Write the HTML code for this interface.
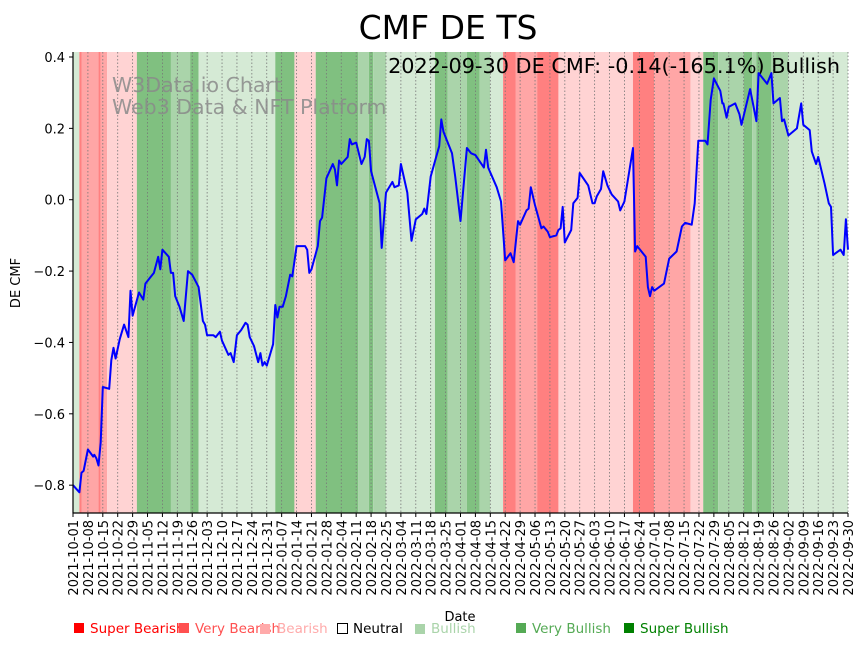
<!DOCTYPE html>
<html><head><meta charset="utf-8"><style>
body{margin:0;background:#fff;}
svg text{font-family:"DejaVu Sans","Liberation Sans",sans-serif;}
</style></head><body>
<svg id="chart" width="864" height="646" viewBox="0 0 864 646" xmlns="http://www.w3.org/2000/svg">
<text x="448" y="39" font-size="33" text-anchor="middle">CMF DE TS</text>
<g id="bands"></g>
<g id="grid"></g>
<text x="112" y="92" font-size="20.5" fill="#8a8a8a" fill-opacity="0.85">W3Data.io Chart</text>
<text x="112" y="114" font-size="20.5" fill="#8a8a8a" fill-opacity="0.85">Web3 Data &amp; NFT Platform</text>
<text x="840" y="73" font-size="20.8" text-anchor="end">2022-09-30 DE CMF: -0.14(-165.1%) Bullish</text>
<path id="line" fill="none" stroke="#0000ff" stroke-width="2" stroke-linejoin="round"/>
<g id="axes"></g>
<text font-size="13" text-anchor="middle" transform="translate(20,283) rotate(-90)">DE CMF</text>
<text x="460" y="621" font-size="13" text-anchor="middle">Date</text>
<g font-size="13.5">
<rect x="74" y="623" width="10" height="10" fill="#ff0000"/>
<text x="90" y="633" fill="#ff0000">Super Bearish</text>
<rect x="179" y="623" width="10" height="10" fill="#ff5050"/>
<text x="195" y="633" fill="#ff5050">Very Bearish</text>
<rect x="260" y="624" width="10" height="10" fill="#ffaaaa"/>
<text x="277" y="633" fill="#ffaaaa">Bearish</text>
<rect x="337.5" y="623.5" width="10" height="10" fill="#fff" stroke="#000"/>
<text x="353" y="633" fill="#000">Neutral</text>
<rect x="415" y="624" width="10" height="10" fill="#aad4aa"/>
<text x="431" y="633" fill="#aad4aa">Bullish</text>
<rect x="516" y="623" width="10" height="10" fill="#55aa55"/>
<text x="532" y="633" fill="#55aa55">Very Bullish</text>
<rect x="624" y="623" width="10" height="10" fill="#008000"/>
<text x="640" y="633" fill="#008000">Super Bullish</text>
</g>
</svg>
<script>
const bandStarts=[0,3,4,12,13,16,30,46,55,59,95,104,114,134,139,141,147,170,176,185,191,196,202,208,218,228,263,273,290,296,303,315,319,321,328,336];
const bandEnds=[3,4,12,13,16,30,46,55,59,95,104,114,134,139,141,147,170,176,185,191,196,202,208,218,228,263,273,290,296,303,315,319,321,328,336,365];
const bandLevels=[1,-3,-2,-3,-2,-1,3,2,3,1,3,-1,3,2,3,2,1,3,2,3,2,1,-3,-2,-3,-1,-3,-2,-1,3,2,3,2,3,2,1];
const days=[0,3,4,5,7,9.5,10,11,12,13,14,17,18,19,20,22,24,26,27,28,31,33,34,36,38,40,41,42,45,46,47,48,50,52,54,56,59,61,62,63,66,67,69,70,73,74,75.5,77,79,81,82,83,85,87,88,89,90,91,94,95,96,97,98.5,100,102,103,105,109,110,111,112,115,116,117,119,122,123,124,125,126,129,130,131,133,135.5,137,138,139,140,144,145,147,150,151,153,154,157,159,161,164,165,166,168,172,173,174,178,179.5,182,185,187,189,193,194,195,199,201,203,205.5,207,209,210,213,214,215,217,220,221,223,224,227,228,229,230,231,234,235,237,238,242,244,245,246,248,249,251,253,256,257,259,263,264,265,269,270,271,272,273,277.6,280,283.5,286,287.5,290.6,292,293.7,297,298,299.5,301,304,305,305.5,307,308,311,313,314,318,321,322,326,328,329,332,333,334,336,340,342,343,346,347,349,350,353,355,356,357,360.5,362,363,364];
const cmf=[-0.80,-0.82,-0.765,-0.76,-0.70,-0.72,-0.715,-0.725,-0.745,-0.68,-0.525,-0.53,-0.45,-0.415,-0.445,-0.39,-0.35,-0.385,-0.255,-0.325,-0.26,-0.28,-0.235,-0.22,-0.205,-0.16,-0.195,-0.14,-0.16,-0.205,-0.205,-0.27,-0.30,-0.34,-0.20,-0.21,-0.245,-0.34,-0.35,-0.38,-0.38,-0.385,-0.37,-0.395,-0.435,-0.43,-0.455,-0.38,-0.365,-0.345,-0.35,-0.385,-0.41,-0.455,-0.43,-0.465,-0.455,-0.465,-0.405,-0.295,-0.33,-0.30,-0.30,-0.27,-0.21,-0.215,-0.13,-0.13,-0.14,-0.205,-0.195,-0.13,-0.06,-0.05,0.06,0.10,0.085,0.04,0.11,0.10,0.12,0.17,0.155,0.16,0.10,0.12,0.17,0.165,0.08,-0.01,-0.135,0.02,0.05,0.035,0.04,0.10,0.02,-0.115,-0.055,-0.04,-0.025,-0.04,0.065,0.15,0.225,0.19,0.13,0.065,-0.06,0.145,0.13,0.125,0.09,0.14,0.09,0.035,-0.005,-0.17,-0.15,-0.175,-0.06,-0.07,-0.03,-0.025,0.035,-0.015,-0.08,-0.075,-0.09,-0.105,-0.10,-0.085,-0.08,-0.02,-0.12,-0.085,-0.01,0.005,0.075,0.04,-0.01,-0.01,0.01,0.03,0.08,0.04,0.015,-0.005,-0.03,-0.005,0.145,-0.145,-0.13,-0.16,-0.245,-0.27,-0.245,-0.255,-0.235,-0.165,-0.145,-0.075,-0.065,-0.07,-0.01,0.165,0.165,0.155,0.28,0.34,0.305,0.27,0.27,0.23,0.26,0.27,0.24,0.21,0.31,0.22,0.355,0.325,0.355,0.27,0.285,0.22,0.225,0.18,0.20,0.27,0.21,0.195,0.135,0.10,0.12,0.045,-0.01,-0.02,-0.155,-0.14,-0.155,-0.055,-0.14];
const yTicks=[0.4,0.2,0.0,-0.2,-0.4,-0.6,-0.8];
const yTickLabels=["0.4","0.2","0.0","−0.2","−0.4","−0.6","−0.8"];

const X0=73,X1=848,Y0=52,Y1=513,DMAX=364,VMAX=0.414,VMIN=-0.878;
function xs(d){return X0+(X1-X0)*d/DMAX;}
function ys(v){return Y0+(Y1-Y0)*(VMAX-v)/(VMAX-VMIN);}
const NS="http://www.w3.org/2000/svg";
function mk(tag,parent,attrs){const e=document.createElementNS(NS,tag);for(const k in attrs)e.setAttribute(k,attrs[k]);parent.appendChild(e);return e;}
const colors={"-3":"#ff8080","-2":"#ffa6a6","-1":"#ffd3d3","1":"#d5ead5","2":"#aad4aa","3":"#80c080"};
const bg=document.getElementById('bands');
for(let i=0;i<bandStarts.length;i++){
  const r=mk('rect',bg,{x:xs(bandStarts[i]),y:Y0,width:Math.max(0,xs(Math.min(bandEnds[i],DMAX))-xs(bandStarts[i])),height:Y1-Y0,fill:colors[bandLevels[i]]});
  
  
}
const grid=document.getElementById('grid');
const axes=document.getElementById('axes');
const start=new Date(Date.UTC(2021,9,1));
for(let d=0;d<=DMAX;d+=7){
  const x=xs(d);
  const g=mk('line',grid,{x1:x,x2:x,y1:Y0,y2:Y1,stroke:'#777','stroke-width':0.8,'stroke-dasharray':'1.5,2'});
  
  
  mk('line',axes,{x1:x,x2:x,y1:Y1,y2:Y1+4,stroke:'#000','stroke-width':1});
  const dt=new Date(start.getTime()+d*86400000);
  const lbl=dt.toISOString().slice(0,10);
  const t=mk('text',axes,{'font-size':13,'text-anchor':'end',transform:`translate(${x+5},${Y1+7}) rotate(-90)`});
  t.textContent=lbl;
  
  
}
yTicks.forEach((v,i)=>{
  const y=ys(v);
  mk('line',axes,{x1:X0-4,x2:X0,y1:y,y2:y,stroke:'#000','stroke-width':1});
  const t=mk('text',axes,{x:X0-8,y:y+5,'font-size':13,'text-anchor':'end'});
  t.textContent=yTickLabels[i];
  
  
});
const ls=mk('line',axes,{x1:X0,x2:X0,y1:Y0,y2:Y1+0.5,stroke:'#000','stroke-width':1.2});


const bs=mk('line',axes,{x1:X0-0.5,x2:X1,y1:Y1,y2:Y1,stroke:'#000','stroke-width':1.2});


document.getElementById('line').setAttribute('d',days.map((d,i)=>(i?'L':'M')+xs(d).toFixed(1)+','+ys(cmf[i]).toFixed(1)).join(''));
</script>
</body></html>
